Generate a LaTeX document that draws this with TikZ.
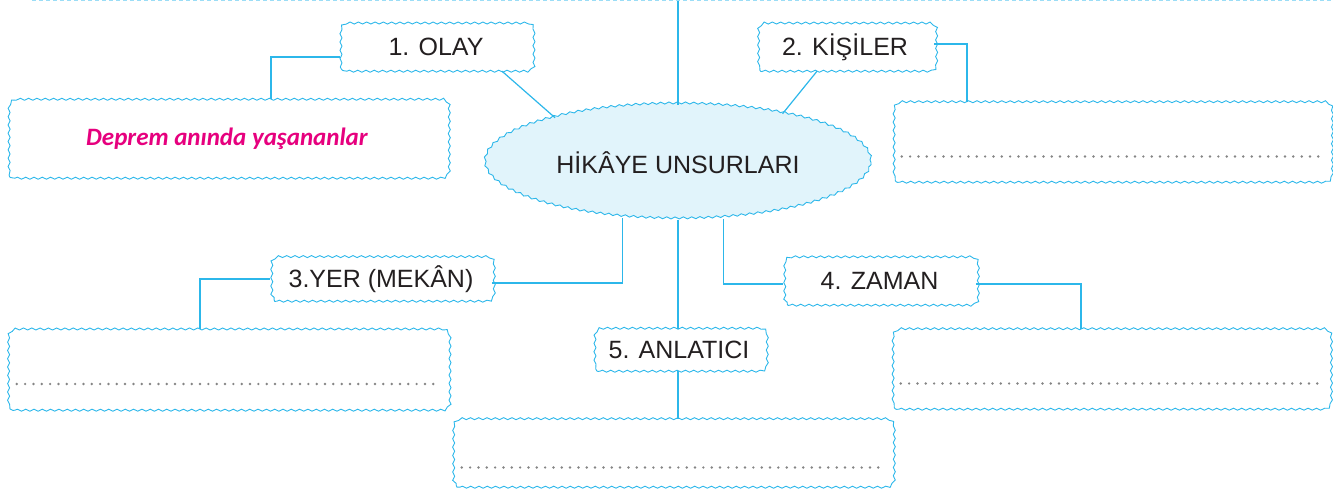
\documentclass[tikz,border=0pt]{standalone}
\usepackage{fontspec}
\setmainfont{Liberation Sans}
\newfontfamily\handfont{Carlito}
\usetikzlibrary{shapes.geometric,decorations.pathmorphing}

\definecolor{waveblue}{HTML}{2CB7EA}
\definecolor{corefill}{HTML}{E1F4FB}
\definecolor{inkgray}{HTML}{231F20}
\definecolor{dotgray}{HTML}{858585}
\definecolor{answerpink}{HTML}{E6007E}
\definecolor{rulecyan}{HTML}{9BDDF6}

\tikzset{
  wavy/.style={draw=waveblue, line width=0.9pt, decorate,
    decoration={snake, amplitude=1pt, segment length=8.3pt}},
  tagbox/.style={text=inkgray, font=\fontsize{25}{30}\selectfont, inner sep=0pt},
  answerbox/.style={inner sep=0pt},
  link/.style={draw=waveblue, line width=1.2pt},
  dotline/.style={draw=dotgray, line width=2.7pt, line cap=round, dash pattern=on 0pt off 8.33pt},
}

% wavy frame with rounded corners round a node
\newcommand\wavyframe[2]{%
  \draw[wavy] ([xshift=#2]#1.south west) -- ([xshift=-#2]#1.south east)
    arc[start angle=-90, end angle=0, radius=#2]
    -- ([yshift=-#2]#1.north east)
    arc[start angle=0, end angle=90, radius=#2]
    -- ([xshift=#2]#1.north west)
    arc[start angle=90, end angle=180, radius=#2]
    -- ([yshift=#2]#1.south west)
    arc[start angle=180, end angle=270, radius=#2];}

\begin{document}
\begin{tikzpicture}[x=1pt,y=-1pt]
  \useasboundingbox (0,0) rectangle (1333,494);

  % dashed rule at the top
  \coordinate (rule west) at (32,1);
  \coordinate (rule east) at (1333,1);
  \draw[rulecyan, line width=1pt, dash pattern=on 4pt off 3pt] (rule west) -- (rule east);

  % centre
  \node[ellipse, wavy, fill=corefill, text=inkgray, minimum width=386pt, minimum height=115pt,
        inner sep=0pt, font=\fontsize{25}{30}\selectfont] (core) at (678,162.5) {HİKÂYE UNSURLARI};

  % titles
  \node[tagbox, minimum width=192pt, minimum height=48pt] (olay)     at (436,47)    {1. OLAY};
  \node[tagbox, minimum width=178pt, minimum height=48pt] (kisiler)  at (845,47)    {2. KİŞİLER};
  \node[tagbox, minimum width=222pt, minimum height=44pt] (yer)      at (381,279)   {3.YER (MEKÂN)};
  \node[tagbox, minimum width=193pt, minimum height=48pt] (zaman)    at (879.5,281) {4. ZAMAN};
  \node[tagbox, minimum width=172pt, minimum height=42pt] (anlatici) at (679,350)   {5. ANLATICI};

  % answer boxes
  \node[answerbox, minimum width=440pt, minimum height=79pt,
        font=\handfont\fontsize{25}{30}\selectfont\bfseries\itshape, text=answerpink]
        (olaybox) at (227,138.5) {Deprem anında yaşananlar};
  \node[answerbox, minimum width=438pt, minimum height=80pt] (kisilerbox)  at (1111,142)    {};
  \node[answerbox, minimum width=441pt, minimum height=81pt] (yerbox)      at (227.5,369.5) {};
  \node[answerbox, minimum width=438pt, minimum height=80pt] (zamanbox)    at (1110,369)    {};
  \node[answerbox, minimum width=440pt, minimum height=68pt] (anlaticibox) at (672,453)     {};

  \foreach \t in {olay,kisiler,yer,zaman,anlatici}
    {\wavyframe{\t}{7pt}}
  \foreach \b in {olaybox,kisilerbox,yerbox,zamanbox,anlaticibox}
    {\wavyframe{\b}{8pt}}

  \foreach \b in {kisilerbox,yerbox,zamanbox,anlaticibox}
    \draw[dotline] ([xshift=10pt,yshift=-14.5pt]\b.west) -- ([xshift=-10pt,yshift=-14.5pt]\b.east);

  % connectors
  \draw[link] (core.north) -- (core.north |- rule west);
  \draw[link] ([xshift=66pt]olay.south) -- (core.160);
  \draw[link] ([xshift=-28pt]kisiler.south) -- (core.25);
  \draw[link] ([yshift=-10pt]olay.west) -| ([xshift=44pt]olaybox.north);
  \draw[link] ([yshift=3pt]kisiler.east) -| ([xshift=-144pt]kisilerbox.north);
  \draw[link] (core.225) |- ([yshift=-4pt]yer.east);
  \draw[link] (yer.west) -| ([xshift=-27.5pt]yerbox.north);
  \draw[link] (core.309) |- ([yshift=-3pt]zaman.west);
  \draw[link] ([yshift=-3pt]zaman.east) -| ([xshift=-29pt]zamanbox.north);
  \draw[link] (core.south) -- (core.south |- anlatici.north);
  \draw[link] (core.south |- anlatici.south) -- (core.south |- anlaticibox.north);

\end{tikzpicture}
\end{document}
